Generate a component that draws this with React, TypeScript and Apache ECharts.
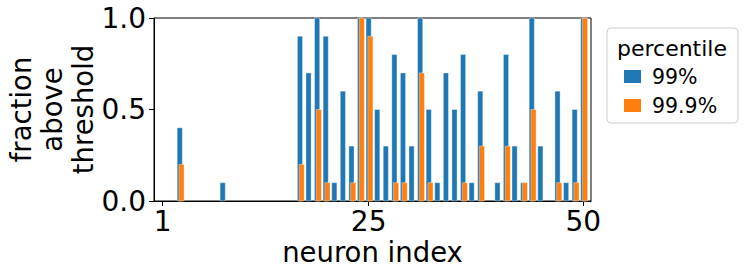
import React, { useEffect, useRef } from "react";
import * as echarts from "echarts";

const neuronIndex: number[] = Array.from({ length: 50 }, (_, i) => i + 1);
const p99: number[] = [
  0, 0, 0.4, 0, 0, 0, 0, 0.1, 0, 0,
  0, 0, 0, 0, 0, 0, 0.9, 0.7, 1.0, 0.9,
  0.1, 0.6, 0.3, 1.0, 1.0, 0.5, 0.3, 0.8, 0.7, 0.3,
  1.0, 0.5, 0.1, 0.7, 0.5, 0.8, 0.1, 0.6, 0, 0.1,
  0.8, 0.3, 0.1, 1.0, 0.3, 0, 0.6, 0.1, 0.5, 1.0,
];
const p999: number[] = [
  0, 0, 0.2, 0, 0, 0, 0, 0, 0, 0,
  0, 0, 0, 0, 0, 0, 0.2, 0, 0.5, 0.1,
  0, 0, 0.1, 1.0, 0.9, 0, 0, 0.1, 0.1, 0,
  0.7, 0.1, 0, 0, 0, 0.1, 0, 0.3, 0, 0,
  0.3, 0, 0.1, 0.5, 0, 0, 0.1, 0, 0.1, 1.0,
];
const xTicks: number[] = [1, 25, 50];
const yTicks: number[] = [0, 0.5, 1.0];
const seriesNames = ["99%", "99.9%"];
const colors = ["#1f77b4", "#ff7f0e"];

const FONT = "DejaVu Sans";

function makeSeries(name: string, values: number[], color: string, offset: number) {
  return {
    type: "custom",
    name,
    itemStyle: { color },
    data: neuronIndex.map((n, i) => [n, values[i]]),
    renderItem: (params: any, api: any) => {
      const x = api.value(0);
      const y = api.value(1);
      if (!y) return null;
      const p0 = api.coord([x - 0.3 + offset, y]);
      const p1 = api.coord([x + 0.3 + offset, 0]);
      return {
        type: "rect",
        shape: { x: p0[0], y: p0[1], width: p1[0] - p0[0], height: p1[1] - p0[1] },
        style: { fill: color, stroke: "rgba(255,255,255,0.45)", lineWidth: 0.8 },
      };
    },
  };
}

export default function App() {
  const ref = useRef<HTMLDivElement>(null);
  useEffect(() => {
    if (!ref.current) return;
    const chart = echarts.init(ref.current, undefined, { renderer: "svg" });
    chart.setOption({
      animation: false,
      backgroundColor: "#ffffff",
      grid: {
        left: 154,
        top: 18,
        width: 437,
        height: 183,
        containLabel: false,
        outerBoundsMode: "none",
        show: true,
        borderColor: "#000",
        borderWidth: 1,
        backgroundColor: "transparent",
      },
      xAxis: {
        type: "value",
        min: 0,
        max: 50.9,
        name: "neuron index",
        nameLocation: "middle",
        nameGap: 37,
        nameMoveOverlap: false,
        nameTextStyle: { fontFamily: FONT, fontSize: 27.5, color: "#000" },
        axisLine: { show: true, onZero: false, lineStyle: { color: "#000", width: 1 } },
        axisTick: { show: true, length: 5, lineStyle: { color: "#000" }, customValues: xTicks },
        axisLabel: {
          fontFamily: FONT,
          fontSize: 28,
          color: "#000",
          margin: 6,
          customValues: xTicks,
        },
        splitLine: { show: false },
      },
      yAxis: {
        type: "value",
        min: 0,
        max: 1,
        interval: 0.5,
        name: "fraction\nabove\nthreshold",
        nameLocation: "middle",
        nameGap: 56,
        nameMoveOverlap: false,
        nameTextStyle: { fontFamily: FONT, fontSize: 27.5, color: "#000", lineHeight: 31 },
        axisLine: { show: true, lineStyle: { color: "#000", width: 1 } },
        axisTick: { show: true, length: 5, lineStyle: { color: "#000" }, customValues: yTicks },
        axisLabel: {
          fontFamily: FONT,
          fontSize: 28,
          color: "#000",
          margin: 8,
          customValues: yTicks,
          formatter: (v: number) => v.toFixed(1),
        },
        splitLine: { show: false },
      },
      legend: {
        orient: "vertical",
        left: 624,
        top: 66,
        padding: 0,
        icon: "rect",
        itemWidth: 17,
        itemHeight: 13,
        itemGap: 8,
        data: seriesNames,
        textStyle: { fontFamily: FONT, fontSize: 20.5, color: "#000", lineHeight: 20, padding: [0, 0, 0, 6] },
      },
      graphic: [
        {
          type: "rect",
          z: -1,
          shape: { x: 607, y: 28, width: 131, height: 95, r: 4 },
          style: { fill: "#fff", stroke: "#cccccc", lineWidth: 1 },
        },
        {
          type: "text",
          x: 672,
          y: 48,
          style: {
            text: "percentile",
            fontFamily: FONT,
            fontSize: 22,
            fill: "#000",
            align: "center",
            verticalAlign: "middle",
          },
        },
      ],
      series: [
        makeSeries(seriesNames[0], p99, colors[0], 0),
        makeSeries(seriesNames[1], p999, colors[1], 0.2),
      ],
    });
    return () => chart.dispose();
  }, []);
  return (
    <div
      ref={ref}
      style={{ position: "fixed", left: 0, top: 0, width: 747, height: 276 }}
    />
  );
}
